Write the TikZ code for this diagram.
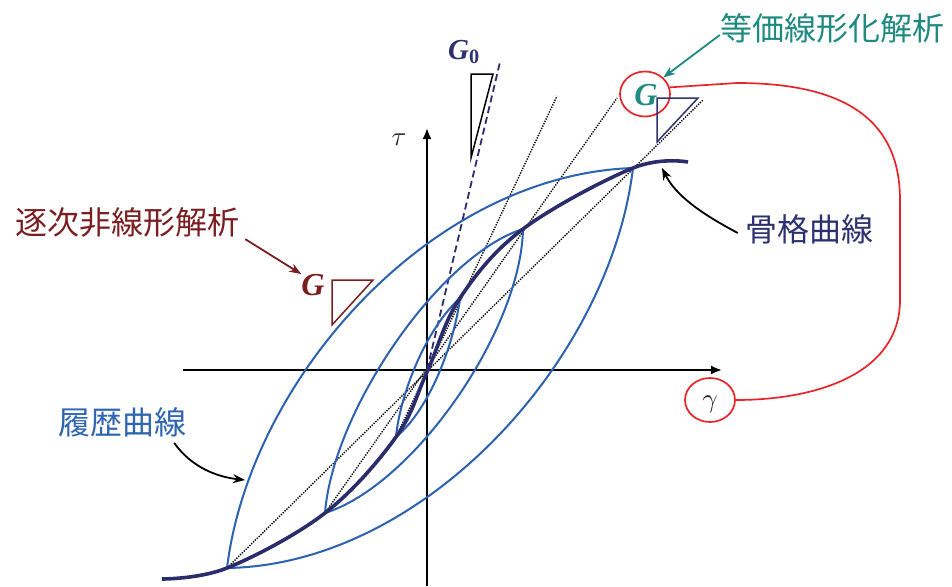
\documentclass[tikz,border=0pt]{standalone}
\usepackage{fontspec}
\newfontfamily\jp{Noto Sans CJK JP}
\newfontfamily\timesf{Liberation Serif}
\usetikzlibrary{shapes.geometric,arrows.meta}
\definecolor{skel}{RGB}{43,44,108}
\definecolor{loopc}{RGB}{44,98,176}
\definecolor{teal2}{RGB}{30,138,128}
\definecolor{dred}{RGB}{122,30,34}
\definecolor{redc}{RGB}{232,36,42}
\definecolor{navyt}{RGB}{46,49,112}
\definecolor{bluet}{RGB}{46,102,178}
\tikzset{
  loopline/.style={draw=loopc,line width=2pt},
  skelline/.style={draw=skel,line width=3.6pt},
  axisline/.style={draw=black,line width=2pt,-{Latex[length=11pt,width=9pt]}},
  dotline/.style={draw=black,line width=1.4pt,dash pattern=on 1.3pt off 1.3pt},
  jtext/.style={font=\jp\fontsize{32}{32}\selectfont,inner sep=0pt},
  gtext/.style={font=\timesf\bfseries\itshape\fontsize{32}{32}\selectfont,inner sep=0pt},
  ptr/.style={line width=1.8pt,-{Stealth[length=12pt,width=9pt]}},
}
\begin{document}
\begin{tikzpicture}[x=1pt,y=-1pt]
\useasboundingbox (0,0) rectangle (952,586);
% axes
\coordinate (xl) at (183,370);
\coordinate (xr) at (722,370);
\coordinate (yb) at (427,586);
\coordinate (yt) at (427,128);
\draw[axisline] (xl) -- (xr);
\draw[axisline] (yb) -- (yt);
\node[text=black!85,inner sep=0pt] (tau) at (399,140) {\scalebox{2.7}{$\tau$}};
% dotted secants
\draw[dotline] (396,437) -- (557,96);
\draw[dotline] (325,513) -- (617,98);
\draw[dotline] (229,566) -- (703,100);
% dashed initial tangent
\draw[draw=skel,line width=1.8pt,dash pattern=on 7pt off 4pt] (427,370) -- (500,62);
% hysteresis loops
\draw[loopline] (227,568) .. controls (250,380) and (430,175) .. (633,168);
\draw[loopline] (633,168) .. controls (610,360) and (424,565) .. (227,568);
\draw[loopline] (325,513) .. controls (333,410) and (440,255) .. (523,229);
\draw[loopline] (523,229) .. controls (521,330) and (414,485) .. (325,513);
\draw[loopline] (396,437) .. controls (400,395) and (425,330) .. (460,298);
\draw[loopline] (460,298) .. controls (454,345) and (429,410) .. (396,437);
% skeleton
\draw[skelline] plot[smooth,tension=0.6] coordinates {(162,579) (227,568) (325,513) (396,437) (427,372) (460,298) (523,229) (633,168) (688,162)};
\coordinate (skp) at (662,168);
% G0
\draw[black,line width=1.5pt] (471,74) -- (493,74) -- (471,158) -- cycle;
\node[font=\timesf\bfseries\itshape\fontsize{29}{29}\selectfont,text=navyt,inner sep=0pt] (g0) at (464,52) {G\textsubscript{\upshape 0}};
% equivalent linear G
\node[gtext,text=teal2] (gg) at (646,95) {G};
\node[ellipse,draw=redc,line width=1.7pt,minimum width=50pt,minimum height=45pt,inner sep=0pt] (gc) at (645,94) {};
\draw[navyt,line width=1.5pt] (657,98) -- (698,98) -- (657,142) -- cycle;
\node[jtext,text=teal2] (eq) at (832,28) {等価線形化解析};
\draw[ptr,teal2] ([yshift=-7pt]eq.west) -- (gc.north east);
% gamma
\node[text=black!85,inner sep=0pt] (gam) at (710,404) {\scalebox{2.7}{$\gamma$}};
\node[ellipse,draw=redc,line width=1.7pt,minimum width=50pt,minimum height=44pt,inner sep=0pt] (gamc) at (710,400) {};
\draw[redc,line width=1.7pt] (gc.15) -- (737,83) .. controls (852,83) and (900,125) .. (900,200) -- (900,300) .. controls (900,372) and (820,400) .. (gamc.east);
% successive nonlinear G
\node[gtext,text=dred] (gs) at (313,285) {G};
\draw[dred,line width=1.5pt] (332,280) -- (373,280) -- (332,325) -- cycle;
\node[jtext,text=dred] (nl) at (127,222) {逐次非線形解析};
\draw[ptr,dred] ([xshift=6pt,yshift=-2pt]nl.south east) -- (gs.north west);
% skeleton label
\node[jtext,text=navyt] (sk) at (809,229) {骨格曲線};
\draw[ptr,black] ([xshift=-7pt,yshift=-4pt]sk.west) .. controls (702,214) and (676,196) .. (skp);
% hysteresis label
\node[jtext,text=bluet] (rk) at (122,422) {履歴曲線};
\coordinate (rkp) at (245,480);
\draw[ptr,black] ([xshift=-12pt,yshift=-6pt]rk.south east) .. controls (192,468) and (218,477) .. (rkp);
\end{tikzpicture}
\end{document}
